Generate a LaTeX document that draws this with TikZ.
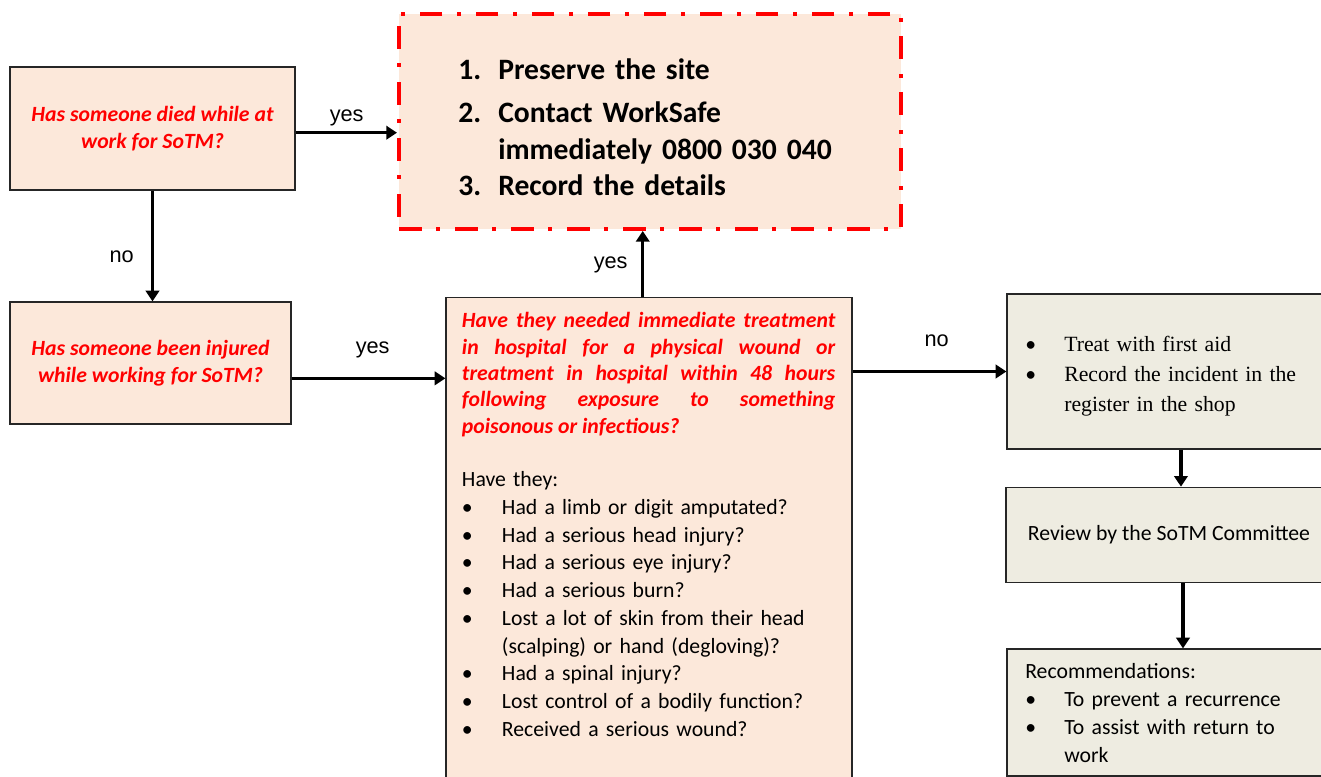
\documentclass[tikz,border=0pt]{standalone}
\usepackage{fontspec}
\setmainfont{Carlito}
\newfontfamily\labelfont{Liberation Sans}
\newfontfamily\serifbox{Liberation Serif}
\newfontfamily\bulletfont{Carlito}
\usetikzlibrary{arrows.meta}
\definecolor{peach}{HTML}{FCE8DA}
\definecolor{boxtan}{HTML}{EEECE1}
\definecolor{alertred}{HTML}{FF0000}
\newcommand{\bulitem}[2][30pt]{\hangindent=#1\hangafter=1\noindent\makebox[#1][l]{\bulletfont\textbullet}#2}

\begin{document}
\begin{tikzpicture}[x=0.75pt, y=-0.75pt,
	peachbox/.style={draw=black!85, line width=0.9pt, fill=peach, inner sep=0pt},
	tanbox/.style={draw=black!85, line width=0.9pt, fill=boxtan, inner sep=0pt},
	question/.style={text=alertred, align=center, font=\bfseries\itshape\fontsize{16.3}{19.95}\selectfont},
	flowarrow/.style={line width=2.4pt, -{Triangle[length=8pt, width=10pt]}},
	answer/.style={anchor=base, font=\labelfont\fontsize{16.3}{19}\selectfont},
	boxtext/.style={anchor=base west, inner sep=0pt, align=left}]
	\useasboundingbox (0,0) rectangle (1321,777);
	\node[peachbox, question, minimum width=213.75pt, minimum height=92.25pt] (died) at (152.5,128.5) {Has someone died while at\\work for SoTM?};
	\node[peachbox, question, minimum width=210.75pt, minimum height=91.5pt] (injured) at (150.5,363) {Has someone been injured\\while working for SoTM?};
	\node[draw=alertred, fill=peach, line width=3pt, dash pattern=on 17pt off 11pt on 3pt off 11pt, minimum width=376.5pt, minimum height=161.6pt] (site) at (650,121.25) {};
	\node[peachbox, minimum width=304.5pt, minimum height=369.4pt] (hospital) at (649,543.75) {};
	\node[tanbox, minimum width=243.75pt, minimum height=116.25pt] (firstaid) at (1169.5,371.5) {};
	\node[tanbox, minimum width=244.5pt, minimum height=71.55pt, font=\fontsize{16.3}{19.8}\selectfont] (review) at (1169,535) {Review by the SoTM Committee};
	\node[tanbox, minimum width=243.75pt, minimum height=95.25pt] (recommend) at (1169.5,712.5) {};
	\node[boxtext, text width=360pt, font=\bfseries\fontsize{22.2}{27.5}\selectfont] (sitetext) at (458,79.3) {\makebox[30pt][l]{1.}Preserve the site\\[5pt]
		\makebox[30pt][l]{2.}Contact WorkSafe\\
		\hspace*{30pt}immediately 0800 030 040\\
		\makebox[30pt][l]{3.}Record the details};
	\node[boxtext, text width=280pt, align=justify, text=alertred, font=\bfseries\itshape\fontsize{16.3}{19.8}\selectfont] (hospitaltext) at (461.7,327.7) {Have they needed immediate treatment\linebreak in hospital for a physical wound or\linebreak treatment in hospital within 48 hours\linebreak following exposure to something\linebreak poisonous or infectious?};
	\node[boxtext, text width=285pt, font=\fontsize{16.3}{20.8}\selectfont] (checklist) at (461.7,486.7) {Have they:
		\par\bulitem{Had a limb or digit amputated?}
		\par\bulitem{Had a serious head injury?}
		\par\bulitem{Had a serious eye injury?}
		\par\bulitem{Had a serious burn?}
		\par\bulitem{Lost a lot of skin from their head\newline(scalping) or hand (degloving)?}
		\par\bulitem{Had a spinal injury?}
		\par\bulitem{Lost control of a bodily function?}
		\par\bulitem{Received a serious wound?}\par};
	\node[boxtext, text width=215pt, font=\serifbox\fontsize{16.3}{22.5}\selectfont] (firstaidtext) at (1025,351) {\bulitem[29.25pt]{Treat with first aid}
		\par\bulitem[29.25pt]{Record the incident in the\newline register in the shop}\par};
	\node[boxtext, text width=215pt, font=\fontsize{16.3}{21}\selectfont] (recommendtext) at (1025,678) {Recommendations:
		\par\bulitem[29.25pt]{To prevent a recurrence}
		\par\bulitem[29.25pt]{To assist with return to\newline work}\par};
	\draw[flowarrow] ([yshift=-3.15pt]died.east) -- ([yshift=-3.15pt]died.east -| site.west);
	\draw[flowarrow] (died.south) -- (died.south |- injured.north);
	\draw[flowarrow] ([yshift=-11.5pt]injured.east) -- ([yshift=-11.5pt]injured.east -| hospital.west);
	\draw[flowarrow] ([xshift=-4.7pt]hospital.north) -- ([xshift=-4.7pt]hospital.north |- site.south);
	\draw[flowarrow] (hospital.east |- firstaid.west) -- (firstaid.west);
	\draw[flowarrow] ([xshift=8.6pt]firstaid.south) -- ([xshift=8.6pt]firstaid.south |- review.north);
	\draw[flowarrow] ([xshift=10.5pt]review.south) -- ([xshift=10.5pt]review.south |- recommend.north);
	\node[answer] (yesdied) at (346.7,121.7) {yes};
	\node[answer] (nodied) at (121.7,263) {no};
	\node[answer] (yesinjured) at (372.7,353.3) {yes};
	\node[answer] (yeshospital) at (610.7,268.3) {yes};
	\node[answer] (nohospital) at (936.7,346.7) {no};
\end{tikzpicture}
\end{document}
